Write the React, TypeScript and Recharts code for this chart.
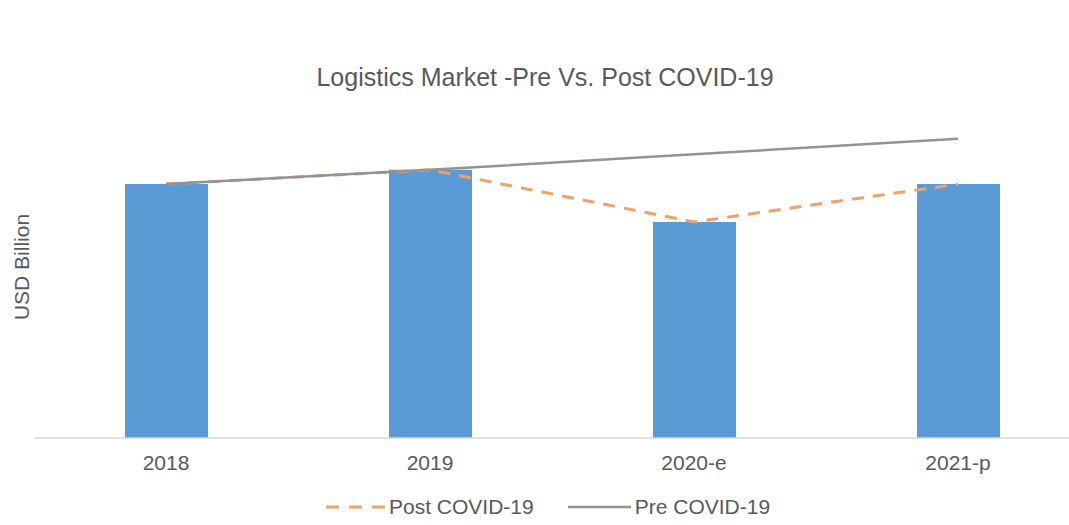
import React from "react";
import { ComposedChart, Bar, Line, XAxis, YAxis } from "recharts";

const categories = ["2018", "2019", "2020-e", "2021-p"];
const barValues = [8.19, 8.65, 6.97, 8.19];
const postCovid = [8.19, 8.65, 6.97, 8.19];
const preCovid = [8.19, 8.65, 9.15, 9.65];

const data = categories.map((c, i) => ({
  name: c,
  bar: barValues[i],
  post: postCovid[i],
  pre: preCovid[i],
}));

const FONT = "'Liberation Sans', Arial, sans-serif";
const TEXT = "#595959";

export default function App() {
  return (
    <div
      style={{
        position: "fixed",
        left: 0,
        top: 0,
        width: 1069,
        height: 525,
        overflow: "hidden",
        background: "#fff",
        fontFamily: FONT,
      }}
    >
      <div
        style={{
          position: "absolute",
          left: 0,
          width: 1090,
          top: 64,
          textAlign: "center",
          fontSize: 25,
          color: TEXT,
          lineHeight: "26px",
        }}
      >
        Logistics Market -Pre Vs. Post COVID-19
      </div>
      <div
        style={{
          position: "absolute",
          left: 22,
          top: 267,
          transform: "translate(-50%, -50%) rotate(-90deg)",
          fontSize: 21,
          lineHeight: "24px",
          color: TEXT,
          whiteSpace: "nowrap",
        }}
      >
        USD Billion
      </div>
      <div style={{ position: "absolute", left: 0, top: 0 }}>
        <ComposedChart
          width={1100}
          height={525}
          data={data}
          margin={{ top: 128, right: 10, bottom: 57, left: 34 }}
          barCategoryGap={0}
        >
          <XAxis
            dataKey="name"
            height={30}
            axisLine={{ stroke: "#d9d9d9", strokeWidth: 1.5 }}
            tickLine={false}
            tickMargin={11}
            tick={{ fill: TEXT, fontSize: 21, fontFamily: FONT }}
          />
          <YAxis hide domain={[0, 10]} />
          <Bar dataKey="bar" fill="#5B9BD5" barSize={83} isAnimationActive={false} />
          <Line
            dataKey="post"
            stroke="#EBA36A"
            strokeWidth={3}
            strokeDasharray="12 9"
            dot={false}
            isAnimationActive={false}
          />
          <Line
            dataKey="pre"
            stroke="#939393"
            strokeWidth={2.5}
            dot={false}
            isAnimationActive={false}
          />
        </ComposedChart>
      </div>
      <div
        style={{
          position: "absolute",
          left: 326,
          top: 495,
          display: "flex",
          alignItems: "center",
          fontSize: 21,
          lineHeight: "24px",
          color: TEXT,
          whiteSpace: "nowrap",
        }}
      >
        <svg width={63} height={20}>
          <line x1={0} y1={10} x2={63} y2={10} stroke="#EBA36A" strokeWidth={3} strokeDasharray="13 10" />
        </svg>
        <span style={{ marginRight: 34 }}>Post COVID-19</span>
        <svg width={63} height={20}>
          <line x1={0} y1={10} x2={63} y2={10} stroke="#939393" strokeWidth={2.5} />
        </svg>
        <span style={{ marginLeft: 4 }}>Pre COVID-19</span>
      </div>
    </div>
  );
}
